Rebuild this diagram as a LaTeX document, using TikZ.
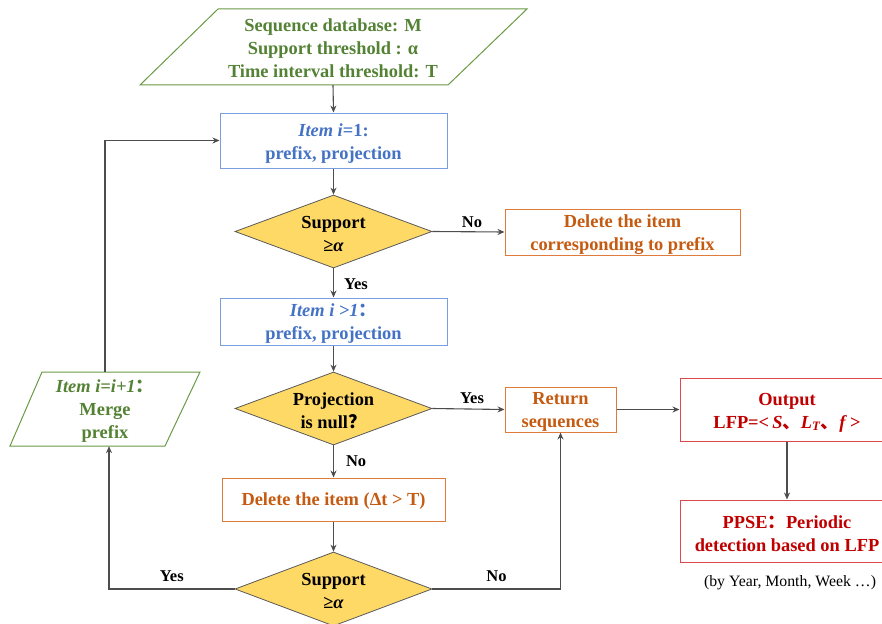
\documentclass[tikz,border=0pt]{standalone}
\usepackage{fontspec}
\setmainfont{Liberation Serif}
\newfontfamily\cjk{Noto Sans CJK SC}
\usetikzlibrary{shapes.geometric,arrows.meta}
\definecolor{gtext}{HTML}{548235}
\definecolor{gline}{HTML}{6A9A45}
\definecolor{btext}{HTML}{4472C4}
\definecolor{bline}{HTML}{7A9EE0}
\definecolor{otext}{HTML}{C55A11}
\definecolor{oline}{HTML}{E07B3C}
\definecolor{rtext}{HTML}{C00000}
\definecolor{rline}{HTML}{E0474C}
\definecolor{dfill}{HTML}{FFD966}
\definecolor{dline}{HTML}{595959}
\definecolor{aline}{HTML}{4D4D4D}
\begin{document}
\begin{tikzpicture}[x=1pt,y=-1pt,
  txt/.style={font=\fontsize{18.4}{23}\selectfont\bfseries, align=center, inner sep=0pt},
  bluebox/.style={draw=bline, line width=1pt, minimum width=227pt},
  orbox/.style={draw=oline, line width=1pt},
  redbox/.style={draw=rline, line width=1pt, minimum width=214pt},
  dia/.style={diamond, draw=dline, fill=dfill, line width=0.8pt, inner sep=0pt, minimum width=197pt, minimum height=73pt},
  lab/.style={font=\fontsize{16.5}{20}\selectfont\bfseries, inner sep=0pt},
  arr/.style={draw=aline, line width=1.1pt, -{Stealth[length=7pt,width=6pt]}},
  para/.style={draw=gline, line width=1pt}]
\useasboundingbox (0,0) rectangle (882,623);

% input parallelogram
\draw[para] (218,9) -- (527,9) -- (448,85) -- (140,85) -- cycle;
\node[minimum width=230pt, minimum height=76pt, inner sep=0pt] (in) at (333,47) {};
\node[txt, text=gtext] at ([yshift=-1.5pt]in)
  {Sequence database: M\\Support threshold : α\\Time interval threshold: T};

% merge parallelogram
\draw[para] (42,372) -- (200,372) -- (165,446) -- (10,446) -- cycle;
\node[minimum width=120pt, minimum height=74pt, inner sep=0pt] (mrg) at (105,409) {};
\node[txt, text=gtext] at ([yshift=-2pt]mrg)
  {\textit{Item i=i+1}{\cjk：}\\Merge\\prefix};

\node[bluebox, minimum height=55pt] (b1) at (333.5,140.5) {};
\node[txt, text=btext] at ([yshift=-3pt]b1) {\textit{Item i}=1:\\prefix, projection};

\node[dia] (d1) at (333.5,231.5) {};
\node[txt] at ([yshift=-2pt]d1) {Support\\≥\textit{α}};

\node[orbox, minimum width=235pt, minimum height=46pt] (del1) at (622.5,232) {};
\node[txt, text=otext] at ([yshift=-2.5pt]del1) {Delete the item\\corresponding to prefix};

\node[bluebox, minimum height=47pt] (b2) at (333.5,321.5) {};
\node[txt, text=btext] at ([yshift=-2.5pt]b2) {\textit{Item i >1}{\cjk：}\\prefix, projection};

\node[dia] (d2) at (333.5,408.5) {};
\node[txt] at ([yshift=-2pt]d2) {Projection\\is null{\cjk？}};

\node[orbox, minimum width=111pt, minimum height=45pt] (ret) at (560.5,409.5) {};
\node[txt, text=otext] at ([yshift=-2.5pt]ret) {Return\\sequences};

\node[redbox, minimum height=63pt] (out) at (787,409.5) {};
\node[txt, text=rtext] at ([yshift=-3pt]out)
  {Output\\LFP=<\,\textit{S}{\cjk、}\textit{L}\textsubscript{\textit{T}}{\cjk、}\textit{f}\,>};

\node[redbox, minimum height=62pt] (ppse) at (787,531) {};
\node[txt, text=rtext] at ([yshift=-2.5pt]ppse) {PPSE{\cjk：}Periodic\\detection based on LFP};

\node[font=\fontsize{15.8}{19}\selectfont, inner sep=0pt] (note) at (790,583)
  {(by Year, Month, Week …)};

\node[orbox, minimum width=223pt, minimum height=43pt] (del2) at (333.5,499.5) {};
\node[txt, text=otext] at ([yshift=-1.5pt]del2) {Delete the item (Δt > T)};

\node[dia, minimum height=74pt] (d3) at (333.5,589) {};
\node[txt] at ([yshift=-2pt]d3) {Support\\≥\textit{α}};

% connectors
\draw[arr] (in.south) -- (b1.north);
\draw[arr] (b1.south) -- (d1.north);
\draw[arr] (d1.east) -- node[lab, above=3.5pt, pos=0.55] {No} (del1.west);
\draw[arr] (d1.south) -- node[lab, right=10pt, pos=0.55] {Yes} (b2.north);
\draw[arr] (b2.south) -- (d2.north);
\draw[arr] (d2.east) -- node[lab, above=5pt, pos=0.55] {Yes} (ret.west);
\draw[arr] (ret.east) -- (out.west);
\draw[arr] (out.south) -- (ppse.north);
\draw[arr] (d2.south) -- node[lab, right=12pt, pos=0.5] {No} (del2.north);
\draw[arr] (del2.south) -- (d3.north);
\coordinate (mb) at ([xshift=4pt]mrg.south);
\draw[arr] (d3.west) -| node[lab, above=6.5pt, pos=0.25] {Yes} (mb);
\draw[arr] (d3.east) -| node[lab, above=6.5pt, pos=0.25] {No} (ret.south);
\draw[arr] (mrg.north) |- (b1.west);
\end{tikzpicture}
\end{document}
